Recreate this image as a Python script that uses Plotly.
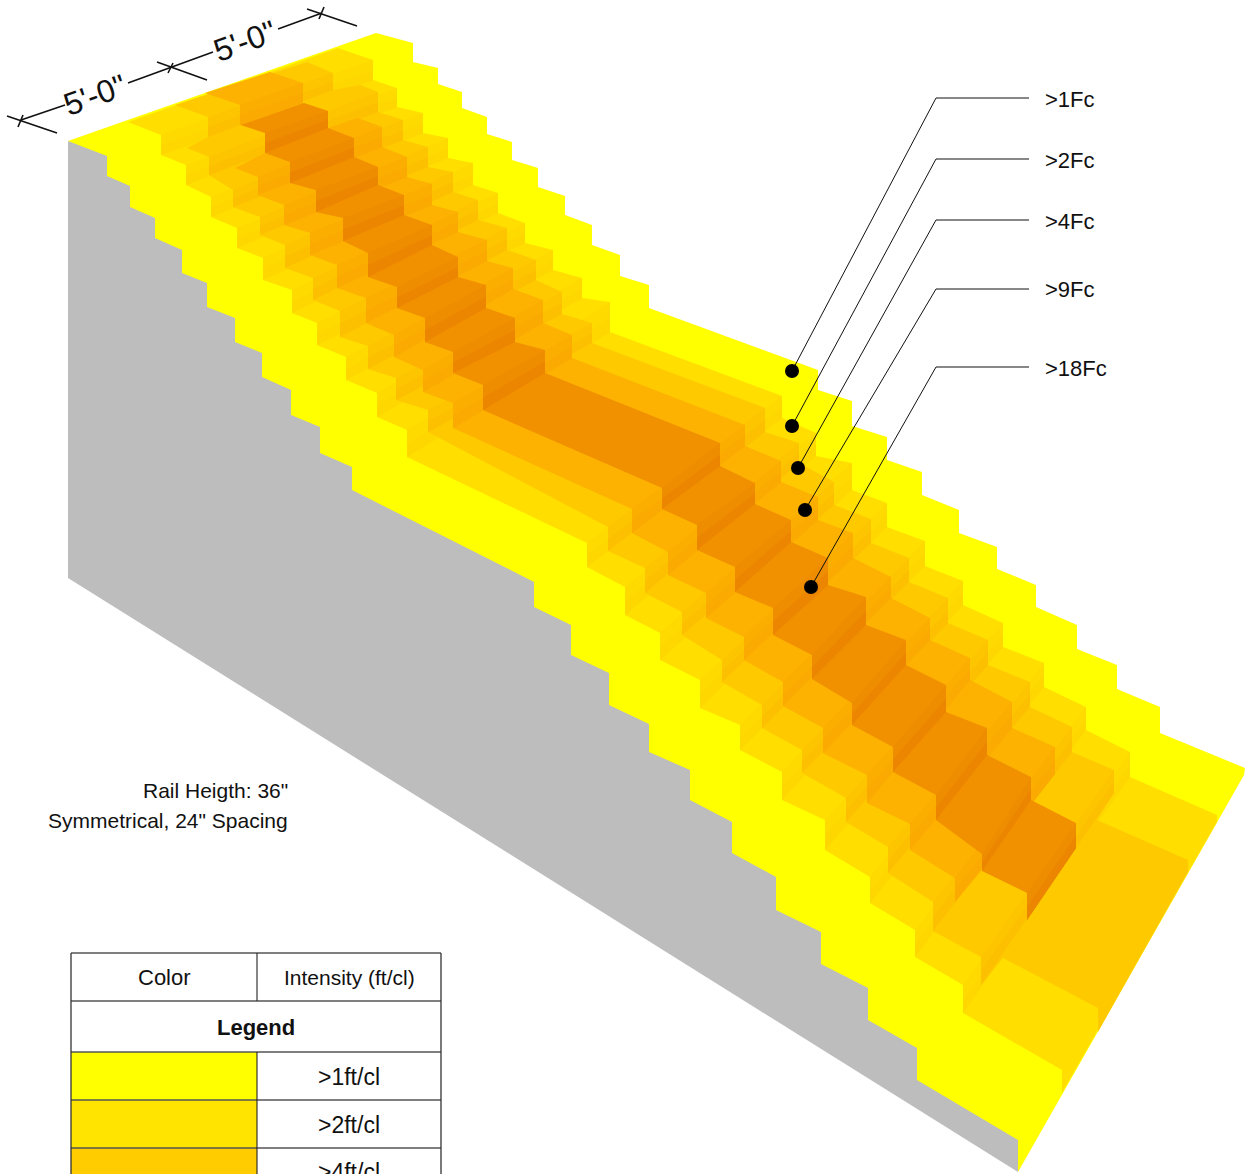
import plotly.graph_objects as go

# Every stair chain is a list of (x, top, bottom).
# Entries with top == bottom are plain corner points, not risers.
Y1_LEFT = [(68,141,141),(107,156,176),(130,186,207),(155,218,238),(182,250,273),(207,283,307),(235,318,342),(262,353,377),(291,390,415),(320,427,453),(352,467,490),
           (534,582,607),(571,625,655),(609,673,705),(649,724,752),(690,770,800),(732,822,853),(776,877,910),(821,932,964),(868,988,1020),(917,1048,1080),(1018,1140,1172)]
Y1_RIGHT = [(376,33,33),(413,43,62),(438,68,84),(462,92,108),(487,117,134),(512,142,160),(538,168,187),(565,196,215),(592,225,245),(620,255,276),(649,285,308),
            (818,370,390),(852,401,426),(887,437,460),(922,472,495),(959,510,533),(997,547,569),(1036,585,607),(1077,625,649),(1117,665,689),(1160,707,733),(1245,768,768),(1244,775,775)]

L2_LEFT = [(128,122,122),(161,135,155),(186,165,185),(211,197,217),(237,228,248),(263,258,280),(292,290,313),(317,323,345),(346,357,380),(377,393,417),(407,430,457),
           (587,543,567),(625,587,615),(660,633,660),(700,680,708),(740,725,750),(782,772,800),(825,820,850),(870,877,903),(915,930,957),(963,985,1013),(1062,1070,1070),(1062,1093,1093)]
L2_RIGHT = [(338,48,48),(373,60,80),(397,88,107),(423,113,133),(448,138,158),(473,163,185),(498,193,213),(525,223,243),(553,250,270),(582,278,298),(610,302,332),
            (782,396,418),(816,433,456),(852,463,490),(887,503,527),(925,541,566),(963,581,605),(1003,623,647),(1044,663,687),(1086,707,730),(1130,752,777),(1217,815,815),(1217,822,822)]

L3_LEFT = [(175,105,105),(208,117,137),(187,148,148),(209,157,175),(233,190,207),(260,217,235),(285,245,268),(313,278,300),(340,311,337),(368,346,369),(396,378,400),(428,410,432),
           (608,527,551),(645,568,593),(682,612,635),(722,660,682),(762,705,728),(802,750,773),(846,798,822),(888,847,873),(933,902,931),(981,957,985),(1003,958,958),(1098,1008,1008),(1098,1032,1032)]
L3_RIGHT = [(307,62,62),(333,73,90),(360,85,85),(378,92,112),(403,120,140),(428,147,167),(453,172,192),(478,200,220),(507,228,250),(536,260,280),(562,292,314),(592,323,343),
            (765,408,432),(799,443,463),(834,482,505),(871,519,543),(909,558,582),(948,598,623),(988,640,665),(1030,682,707),(1072,727,752),(1114,770,793),(1097,820,820),(1188,860,860),(1188,872,872)]

L4_LEFT = [(205,93,93),(240,105,125),(265,133,133),(265,153,153),(235,168,168),(258,177,195),(284,205,225),(310,233,255),(337,265,288),(366,298,323),(394,335,357),(423,370,392),(453,403,428),
           (632,509,533),(668,552,575),(706,593,618),(744,637,660),(783,682,706),(823,728,753),(867,775,803),(910,824,850),(955,878,902),(982,870,870)]
L4_RIGHT = [(270,72,72),(303,83,103),(328,111,111),(328,128,128),(358,118,118),(382,127,147),(407,157,177),(432,184,205),(458,212,232),(487,240,261),(513,268,289),(543,300,323),(572,335,358),
            (745,425,446),(781,461,482),(818,497,520),(853,533,558),(891,577,598),(930,618,640),(970,658,680),(1012,702,728),(1055,747,774),(1032,798,798)]

L5_LEFT = [(241,125,125),(265,133,153),(290,162,183),(316,190,212),(343,218,241),(368,253,277),(397,287,308),(425,318,342),(453,352,373),(483,385,410),
           (662,488,509),(697,525,550),(735,567,592),(773,608,635),(812,655,679),(852,703,725),(893,747,772),(936,795,820),(982,854,871),(1027,893,920)]
L5_RIGHT = [(304,103,103),(328,111,128),(354,138,157),(378,167,185),(404,195,215),(432,225,245),(458,257,277),(486,285,308),(515,318,342),(545,350,373),
            (720,443,466),(755,483,504),(791,520,542),(828,558,585),(866,597,625),(906,640,665),(946,685,712),(987,728,755),(1031,777,800),(1076,823,848)]

GRAY_SIDE_X = [68, 300, 600, 1018, 1018, 68]
GRAY_SIDE_Y = [141, 200, 500, 1140, 1172, 578]

LEVEL_NAMES = ["Y1", "L2", "L3", "L4", "L5"]
LEVEL_CHAINS = [(Y1_LEFT, Y1_RIGHT), (L2_LEFT, L2_RIGHT), (L3_LEFT, L3_RIGHT), (L4_LEFT, L4_RIGHT), (L5_LEFT, L5_RIGHT)]
TREAD_COLORS = ["#FFFF00", "#FFDE00", "#FFC900", "#FDB100", "#F19100"]
RISER_COLORS = ["#FFFF00", "#FFDA00", "#FDC400", "#FBAD00", "#EF8D00"]
RISER_LOW_COLORS = ["#FFFF00", "#FFD700", "#FCC000", "#FAAA00", "#EC8600"]

DOT_X = [792, 792, 798, 805, 811]
DOT_Y = [371, 426, 468, 510, 587]
ELBOW_X = 936
LABEL_END_X = 1029
LINE_Y = [98, 159, 220, 289, 367]
LABEL_Y = [99, 160, 221, 289, 368]
LABEL_TEXT = [">1Fc", ">2Fc", ">4Fc", ">9Fc", ">18Fc"]

DIM_LINES = [[(21,120),(65,105)], [(128,83),(170,68),(213,52)], [(278,29),(322,13)],
             [(7,116),(57,133)], [(157,62),(207,80)], [(307,9),(357,26)],
             [(18,127),(23,115)], [(168,73),(173,63)], [(319,19),(324,7)]]
DIM_TEXT = [(95, 95, "5'-0\""), (245, 41, "5'-0\"")]

TABLE_COLS = [71, 257, 441]
TABLE_ROWS = [953, 1001, 1052, 1100, 1148, 1180]
TABLE_HEAD = ["Color", "Intensity (ft/cl)"]
TABLE_TITLE = "Legend"
TABLE_VALUES = [">1ft/cl", ">2ft/cl", ">4ft/cl"]
TABLE_COLORS = ["#FFFF00", "#FFE400", "#FFCC00"]

NOTE_LINES = ["Rail Heigth: 36\"", "Symmetrical, 24\" Spacing"]
NOTE_Y = [790, 820]

FONT = "Liberation Sans, Arial, sans-serif"


def outline(left, right):
    xs, ys = [], []
    for x, t, b in left:
        xs += [x, x]; ys += [t, b]
    for x, t, b in reversed(right):
        xs += [x, x]; ys += [b, t]
    return xs, ys


def risers(left, right, lower=False):
    L = [v for v in left if v[1] != v[2]]
    R = [v for v in right if v[1] != v[2]]
    xs, ys = [], []
    for (xl, tl, bl), (xr, tr, br) in zip(L, R):
        if lower:
            tl, tr = (tl + bl) / 2, (tr + br) / 2
        xs += [xl, xr, xr, xl, xl, None]
        ys += [tl, tr, br, bl, tl, None]
    return xs, ys


def poly(xs, ys, color, name):
    return go.Scatter(x=xs, y=ys, mode="lines", fill="toself", fillcolor=color,
                      line=dict(width=0, color=color), hoverinfo="skip", showlegend=False, name=name)


fig = go.Figure()
fig.add_trace(poly(GRAY_SIDE_X, GRAY_SIDE_Y, "#BDBDBD", "side"))
for name, (left, right), tc, rc, lc in zip(LEVEL_NAMES, LEVEL_CHAINS, TREAD_COLORS, RISER_COLORS, RISER_LOW_COLORS):
    xs, ys = outline(left, right)
    fig.add_trace(poly(xs, ys, tc, name))
    if name != "Y1":
        rx, ry = risers(left, right)
        fig.add_trace(poly(rx, ry, rc, name + " risers"))
        rx, ry = risers(left, right, lower=True)
        fig.add_trace(poly(rx, ry, lc, name + " riser feet"))

# leaders
for dx, dy, ly in zip(DOT_X, DOT_Y, LINE_Y):
    fig.add_trace(go.Scatter(x=[dx, ELBOW_X, LABEL_END_X], y=[dy, ly, ly], mode="lines",
                             line=dict(color="#111111", width=1), hoverinfo="skip", showlegend=False))
fig.add_trace(go.Scatter(x=DOT_X, y=DOT_Y, mode="markers", marker=dict(color="#000000", size=14),
                         hoverinfo="skip", showlegend=False))
for text, ly in zip(LABEL_TEXT, LABEL_Y):
    fig.add_annotation(x=1043, y=ly, text=text, showarrow=False, xanchor="left", yanchor="middle",
                       font=dict(family=FONT, size=22, color="#111111"))

# dimensions
for seg in DIM_LINES:
    fig.add_trace(go.Scatter(x=[p[0] for p in seg], y=[p[1] for p in seg], mode="lines",
                             line=dict(color="#111111", width=1.6), hoverinfo="skip", showlegend=False))
for x, y, t in DIM_TEXT:
    fig.add_annotation(x=x, y=y, text=t, showarrow=False, textangle=-20,
                       font=dict(family=FONT, size=32, color="#111111"))

# note
for t, y in zip(NOTE_LINES, NOTE_Y):
    fig.add_annotation(x=290, y=y, text=t, showarrow=False, xanchor="right", yanchor="middle",
                       font=dict(family=FONT, size=21, color="#111111"))

# table
for i, c in enumerate(TABLE_COLORS):
    fig.add_trace(poly([TABLE_COLS[0], TABLE_COLS[1], TABLE_COLS[1], TABLE_COLS[0]],
                       [TABLE_ROWS[i + 2], TABLE_ROWS[i + 2], TABLE_ROWS[i + 3], TABLE_ROWS[i + 3]], c, "swatch"))
for r in TABLE_ROWS[:5]:
    fig.add_trace(go.Scatter(x=[TABLE_COLS[0], TABLE_COLS[2]], y=[r, r], mode="lines",
                             line=dict(color="#555555", width=1.3), hoverinfo="skip", showlegend=False))
for c in (TABLE_COLS[0], TABLE_COLS[2]):
    fig.add_trace(go.Scatter(x=[c, c], y=[TABLE_ROWS[0], 1180], mode="lines",
                             line=dict(color="#333333", width=1.3), hoverinfo="skip", showlegend=False))
for y0, y1 in ((TABLE_ROWS[0], TABLE_ROWS[1]), (TABLE_ROWS[2], 1180)):
    fig.add_trace(go.Scatter(x=[TABLE_COLS[1], TABLE_COLS[1]], y=[y0, y1], mode="lines",
                             line=dict(color="#222222", width=1.1), hoverinfo="skip", showlegend=False))
fig.add_annotation(x=164, y=977, text=TABLE_HEAD[0], showarrow=False, font=dict(family=FONT, size=22, color="#111111"))
fig.add_annotation(x=349, y=977, text=TABLE_HEAD[1], showarrow=False, font=dict(family=FONT, size=21, color="#111111"))
fig.add_annotation(x=256, y=1027, text="<b>" + TABLE_TITLE + "</b>", showarrow=False, font=dict(family=FONT, size=22, color="#111111"))
for t, y in zip(TABLE_VALUES, (1077, 1125, 1172)):
    fig.add_annotation(x=349, y=y, text=t, showarrow=False, font=dict(family=FONT, size=23, color="#111111"))

fig.update_layout(width=1248, height=1174, margin=dict(l=0, r=0, t=0, b=0),
                  paper_bgcolor="white", plot_bgcolor="white", showlegend=False,
                  xaxis=dict(range=[0, 1248], visible=False, fixedrange=True),
                  yaxis=dict(range=[1174, 0], visible=False, fixedrange=True))
fig.write_html("out.html", config={"displayModeBar": False},
               post_script="document.body.style.margin='0';document.body.style.overflow='hidden';")
